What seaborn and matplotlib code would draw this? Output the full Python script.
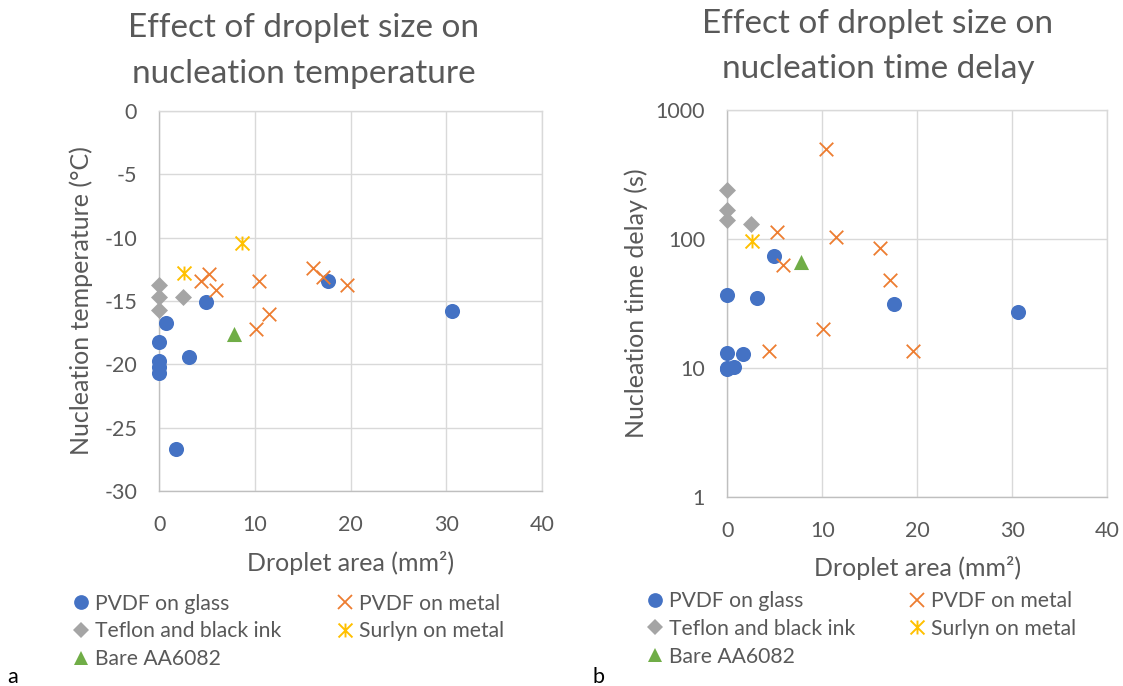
import matplotlib
matplotlib.use("Agg")
import numpy as np
import pandas as pd
import matplotlib.pyplot as plt
from matplotlib.path import Path
from matplotlib.lines import Line2D
import seaborn as sns

# ---- data: droplet area (mm²), nucleation temperature (°C), time delay (s) ----
glass_area = [0.7, 0.0, 0.0, 0.0, 0.0, 3.1, 4.9, 1.7, 17.6, 30.6]
glass_temp = [-16.7, -18.2, -19.7, -20.2, -20.7, -19.4, -15.1, -26.7, -13.4, -15.8]
glass_delay = [10.2, 36.5, 13.1, 9.8, 10.0, 35.0, 74.0, 12.8, 31.6, 27.0]

metal_area = [16.1, 17.1, 19.6, 10.4, 4.4, 5.2, 5.9, 11.5, 10.1]
metal_temp = [-12.4, -13.1, -13.7, -13.4, -13.4, -12.9, -14.1, -16.0, -17.2]
metal_delay = [85.0, 48.0, 13.6, 500.0, 13.6, 113.0, 63.0, 104.0, 20.0]

teflon_area = [0.0, 0.0, 0.0, 2.5]
teflon_temp = [-13.7, -14.7, -15.7, -14.7]
teflon_delay = [238.0, 167.0, 141.0, 130.0]

surlyn_area = [2.6, 8.6]
surlyn_temp = [-12.8, -10.4]
surlyn_delay = [97.0, np.nan]

bare_area = [7.8]
bare_temp = [-17.6]
bare_delay = [66.0]

series_names = ["PVDF on glass", "PVDF on metal", "Teflon and black ink",
                "Surlyn on metal", "Bare AA6082"]

x_ticks = [0, 10, 20, 30, 40]
temp_ticks = [0, -5, -10, -15, -20, -25, -30]
delay_ticks = [1, 10, 100, 1000]

# ---- styling ----
W, H = 1123, 686
TXT = "#595959"
GRID = "#D9D9D9"
AXLINE = "#BFBFBF"
TICK_FS = 15.5
LABEL_FS = 18
TITLE_FS = 24
LEGEND_FS = 15.2

# asterisk marker: an "x" with a vertical bar
star = Path([(0, -1), (0, 1), (-1, -1), (1, 1), (-1, 1), (1, -1)],
            [Path.MOVETO, Path.LINETO, Path.MOVETO, Path.LINETO,
             Path.MOVETO, Path.LINETO])

styles = {
    "PVDF on glass": dict(marker="o", color="#4472C4", s=118, lw=0, ms=10.6, filled=True),
    "PVDF on metal": dict(marker="x", color="#ED7D31", s=95, lw=1.3, ms=9.6, filled=False),
    "Teflon and black ink": dict(marker="D", color="#A5A5A5", s=75, lw=0, ms=8.4, filled=True),
    "Surlyn on metal": dict(marker=star, color="#FFC000", s=100, lw=1.4, ms=10.0, filled=False),
    "Bare AA6082": dict(marker="^", color="#70AD47", s=118, lw=0, ms=10.6, filled=True),
}

frames = []
for name, a, t, d in [
    ("PVDF on glass", glass_area, glass_temp, glass_delay),
    ("PVDF on metal", metal_area, metal_temp, metal_delay),
    ("Teflon and black ink", teflon_area, teflon_temp, teflon_delay),
    ("Surlyn on metal", surlyn_area, surlyn_temp, surlyn_delay),
    ("Bare AA6082", bare_area, bare_temp, bare_delay),
]:
    frames.append(pd.DataFrame({"area": a, "temp": t, "delay": d, "series": name}))
df = pd.concat(frames, ignore_index=True)

sns.set_theme(style="white")
plt.rcParams["font.family"] = ["Lato", "DejaVu Sans"]
plt.rcParams["text.color"] = TXT

fig = plt.figure(figsize=(W / 100, H / 100), dpi=100)
ax1 = fig.add_axes([159.3 / W, 1 - 491 / H, (542 - 159.3) / W, (491 - 111) / H])
ax2 = fig.add_axes([727.3 / W, 1 - 497 / H, (1107 - 727.3) / W, (497 - 110) / H])


def draw(ax, ycol):
    for name in series_names:
        st = styles[name]
        sub = df[df["series"] == name].dropna(subset=[ycol])
        kw = dict(marker=st["marker"], color=st["color"], s=st["s"], linewidth=st["lw"],
                  zorder=3, legend=False, clip_on=False)
        if st["marker"] is star:
            kw["edgecolor"] = st["color"]
        sns.scatterplot(data=sub, x="area", y=ycol, ax=ax, **kw)


def style_axes(ax):
    ax.set_axisbelow(True)
    ax.grid(True, which="major", color=GRID, linewidth=1.0)
    ax.grid(False, which="minor")
    for side in ("top", "right"):
        ax.spines[side].set_color(GRID)
        ax.spines[side].set_linewidth(1.0)
    for side in ("left", "bottom"):
        ax.spines[side].set_color(AXLINE)
        ax.spines[side].set_linewidth(1.0)
    ax.tick_params(axis="both", which="both", length=0, labelsize=TICK_FS, labelcolor=TXT)
    ax.tick_params(axis="y", pad=16)
    ax.tick_params(axis="x", pad=17)
    ax.set_xlim(0, 40)
    ax.set_xticks(x_ticks)
    ax.set_xticklabels([str(v) for v in x_ticks])


# left: nucleation temperature
draw(ax1, "temp")
style_axes(ax1)
ax1.set_ylim(-30, 0)
ax1.set_yticks(temp_ticks)
ax1.set_yticklabels([str(v) for v in temp_ticks])
ax1.set_xlabel("Droplet area (mm²)", fontsize=LABEL_FS, color=TXT)
ax1.set_ylabel("Nucleation temperature (°C)", fontsize=LABEL_FS, color=TXT)
ax1.xaxis.label.set_va("center")
ax1.xaxis.set_label_coords(0.5, -(563 - 491) / 380)
ax1.yaxis.label.set_va("center")
ax1.yaxis.set_label_coords((81.7 - 159.3) / 382.7, 0.5)

# right: nucleation time delay (log scale)
draw(ax2, "delay")
ax2.set_yscale("log")
style_axes(ax2)
ax2.set_ylim(1, 1000)
ax2.set_yticks(delay_ticks)
ax2.set_yticklabels([str(v) for v in delay_ticks])
ax2.yaxis.set_minor_locator(matplotlib.ticker.NullLocator())
ax2.set_xlabel("Droplet area (mm²)", fontsize=LABEL_FS, color=TXT)
ax2.set_ylabel("Nucleation time delay (s)", fontsize=LABEL_FS, color=TXT)
ax2.xaxis.label.set_va("center")
ax2.xaxis.set_label_coords(0.5, -(568 - 497) / 387)
ax2.yaxis.label.set_va("center")
ax2.yaxis.set_label_coords((636 - 727.3) / 379.7, 0.5)

# titles
fig.text(304 / W, 1 - 37 / H, "Effect of droplet size on", ha="center", va="baseline",
         fontsize=TITLE_FS, color=TXT)
fig.text(304 / W, 1 - 83 / H, "nucleation temperature", ha="center", va="baseline",
         fontsize=TITLE_FS, color=TXT)
fig.text(878 / W, 1 - 33 / H, "Effect of droplet size on", ha="center", va="baseline",
         fontsize=TITLE_FS, color=TXT)
fig.text(878 / W, 1 - 78 / H, "nucleation time delay", ha="center", va="baseline",
         fontsize=TITLE_FS, color=TXT)


# legends: two columns per panel
def handle(name):
    st = styles[name]
    if st["filled"]:
        return Line2D([], [], linestyle="none", marker=st["marker"], markersize=st["ms"],
                      markerfacecolor=st["color"], markeredgewidth=0)
    return Line2D([], [], linestyle="none", marker=st["marker"], markersize=st["ms"],
                  color=st["color"], markeredgecolor=st["color"], markeredgewidth=st["lw"])


col_a = ["PVDF on glass", "Teflon and black ink", "Bare AA6082"]
col_b = ["PVDF on metal", "Surlyn on metal"]


def legend_col(names, x_px, y_px):
    lg = fig.legend([handle(n) for n in names], names, loc="upper left",
                    bbox_to_anchor=(x_px / W, 1 - y_px / H), frameon=False,
                    fontsize=LEGEND_FS, handlelength=1.0, handletextpad=0.2,
                    borderpad=0, borderaxespad=0, labelspacing=0.37)
    for t in lg.get_texts():
        t.set_color(TXT)
    return lg


legend_col(col_a, 70, 593.5)
legend_col(col_b, 334, 593.5)
legend_col(col_a, 644, 591)
legend_col(col_b, 906, 591)

# panel letters
fig.text(7 / W, 1 - 683 / H, "a", ha="left", va="baseline", fontsize=15.5, color="black")
fig.text(593 / W, 1 - 683 / H, "b", ha="left", va="baseline", fontsize=15.5, color="black")

fig.savefig("out.png", dpi=100)
